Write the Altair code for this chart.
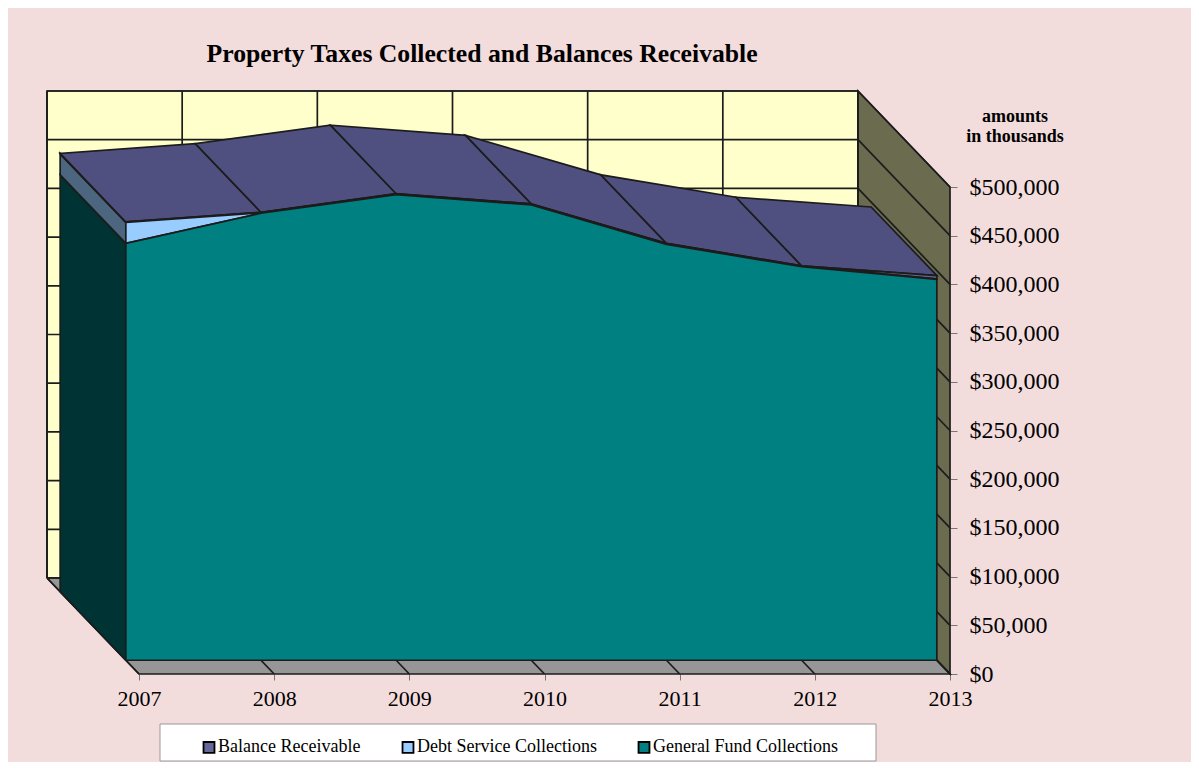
import altair as alt
import pandas as pd

# ---- values ----
years = [2007, 2008, 2009, 2010, 2011, 2012, 2013]
general_fund = [428000, 459000, 478000, 467500, 427000, 404000, 391000]
debt_service = [21500, 500, 500, 500, 500, 500, 500]
balance_receivable = [500, 500, 500, 500, 500, 500, 3500]
series_names = ["Balance Receivable", "Debt Service Collections", "General Fund Collections"]
series_colors = ["#666699", "#99CCFF", "#008080"]
value_ticks = list(range(0, 500001, 50000))
note_lines = ["amounts", "in thousands"]
title_text = "Property Taxes Collected and Balances Receivable"

# ---- oblique projection of the 3-D box onto the year/dollar plane ----
PX_PER_YEAR = 811 / 6
PX_PER_DOLLAR = 487 / 500000
DEPTH_YEARS = 92 / PX_PER_YEAR        # how far the back wall shifts left
DEPTH_DOLLARS = 96 / PX_PER_DOLLAR    # how far the back wall shifts up
SERIES_FRONT, SERIES_BACK = 0.143, 0.857
FONT = "Liberation Serif"
LINE = "#1c1c1c"


def proj(year, value, depth=0.0):
    return year - depth * DEPTH_YEARS, value + depth * DEPTH_DOLLARS


def poly(name, fill, corners):
    pts = corners + [corners[0]]
    rows = []
    for i, (yr, val, dep) in enumerate(pts):
        x, y = proj(yr, val, dep)
        rows.append({"x": x, "y": y, "i": i, "face": name, "fill": fill})
    return rows


def seg(name, a, b):
    rows = []
    for i, (yr, val, dep) in enumerate([a, b]):
        x, y = proj(yr, val, dep)
        rows.append({"x": x, "y": y, "i": i, "face": name})
    return rows


x_scale = alt.Scale(domain=[years[0], years[-1]], nice=False, zero=False)
y_scale = alt.Scale(domain=[0, 500000], nice=False, zero=False)
X = alt.X("x:Q", scale=x_scale, title=None,
          axis=alt.Axis(values=years, format="d", grid=False, domain=False, tickColor="#777777",
                        tickSize=6, labelFont=FONT, labelFontSize=22, labelColor="black",
                        labelPadding=8, labelFlush=False, labelOverlap=False, labelBound=False,
                        orient="bottom"))
Y = alt.Y("y:Q", scale=y_scale, title=None,
          axis=alt.Axis(values=value_ticks, format="$,.0f", grid=False, domain=False, tickColor="#777777",
                        tickSize=7, labelFont=FONT, labelFontSize=24, labelColor="black",
                        labelPadding=12, labelFlush=False, labelOverlap=False, labelBound=False,
                        orient="right"))


def fills(rows):
    return alt.Chart(pd.DataFrame(rows)).mark_line(fill="black", stroke=LINE, strokeWidth=1.7).encode(
        x=X, y=Y, order=alt.Order("i:Q"), detail="face:N",
        fill=alt.Fill("fill:N", scale=None))


y0, y1 = years[0], years[-1]
top = value_ticks[-1]

# box: back wall, side wall, floor
box_rows = (
    poly("wall", "#FFFFCC", [(y0, 0, 1), (y1, 0, 1), (y1, top, 1), (y0, top, 1)])
    + poly("side", "#6B6B50", [(y1, 0, 1), (y1, 0, 0), (y1, top, 0), (y1, top, 1)])
    + poly("floor", "#969696", [(y0, 0, 1), (y1, 0, 1), (y1, 0, 0), (y0, 0, 0)])
)

# grid lines on the box
grid_rows = []
for v in value_ticks:
    grid_rows += seg(f"back{v}", (y0, v, 1), (y1, v, 1))
    grid_rows += seg(f"right{v}", (y1, v, 1), (y1, v, 0))
for yr in years:
    grid_rows += seg(f"vert{yr}", (yr, 0, 1), (yr, top, 1))
    grid_rows += seg(f"fl{yr}", (yr, 0, 1), (yr, 0, 0))

# stacked levels
g_top = general_fund
d_top = [a + b for a, b in zip(g_top, debt_service)]
b_top = [a + b for a, b in zip(d_top, balance_receivable)]

side_rows = (
    poly("s1", "#003333", [(y0, 0, SERIES_FRONT), (y0, 0, SERIES_BACK), (y0, g_top[0], SERIES_BACK), (y0, g_top[0], SERIES_FRONT)])
    + poly("s2", "#4C6680", [(y0, g_top[0], SERIES_FRONT), (y0, g_top[0], SERIES_BACK), (y0, d_top[0], SERIES_BACK), (y0, d_top[0], SERIES_FRONT)])
    + poly("s3", "#333366", [(y0, d_top[0], SERIES_FRONT), (y0, d_top[0], SERIES_BACK), (y0, b_top[0], SERIES_BACK), (y0, b_top[0], SERIES_FRONT)])
)

top_rows = []
for k in range(len(years) - 1):
    top_rows += poly(f"t{k}", "#505080", [
        (years[k], b_top[k], SERIES_FRONT), (years[k + 1], b_top[k + 1], SERIES_FRONT),
        (years[k + 1], b_top[k + 1], SERIES_BACK), (years[k], b_top[k], SERIES_BACK)])

# front faces
front_rows = []
for name, lows, highs in [
    (series_names[0], d_top, b_top),
    (series_names[1], g_top, d_top),
    (series_names[2], [0] * len(years), g_top),
]:
    for yr, lo, hi in zip(years, lows, highs):
        x, yl = proj(yr, lo, SERIES_FRONT)
        _, yh = proj(yr, hi, SERIES_FRONT)
        front_rows.append({"x": x, "y": yh, "y2": yl, "series": name})

box = fills(box_rows)
grid = alt.Chart(pd.DataFrame(grid_rows)).mark_line(stroke=LINE, strokeWidth=1.7).encode(
    x=X, y=Y, order=alt.Order("i:Q"), detail="face:N")
sides = fills(side_rows)
tops = fills(top_rows)
front = alt.Chart(pd.DataFrame(front_rows)).mark_area(stroke=LINE, strokeWidth=1.7, opacity=1).encode(
    x=X, y=Y, y2="y2:Q",
    color=alt.Color("series:N",
                    scale=alt.Scale(domain=series_names, range=series_colors),
                    legend=alt.Legend(title=None, orient="none", legendX=61, legendY=551,
                                      direction="horizontal", columns=3, columnPadding=37,
                                      padding=0, symbolType="square", symbolSize=120,
                                      symbolStrokeColor="black", symbolStrokeWidth=1.8,
                                      labelFont=FONT, labelFontSize=18, labelColor="black",
                                      labelOffset=0, labelLimit=300)))

legend_box = alt.Chart(pd.DataFrame({"k": [0]})).mark_rect(fill="white", stroke="#999999", strokeWidth=1).encode(
    x=alt.value(21), x2=alt.value(737), y=alt.value(537), y2=alt.value(574))

note = alt.Chart(pd.DataFrame({"t": note_lines, "py": [-65, -45]})).mark_text(
    font=FONT, fontSize=18, fontWeight="bold", color="black", align="center", baseline="alphabetic"
).encode(x=alt.value(876), y=alt.Y("py:Q", scale=None, axis=None), text="t:N")

chart = alt.layer(box, grid, sides, tops, front, legend_box, note).properties(
    width=811, height=487,
    background="#F3DCDC",
    padding={"left": 131, "top": 179, "right": 241, "bottom": 88},
    autosize=alt.AutoSizeParams(type="none"),
    title=alt.TitleParams(title_text, anchor="start", dx=163, offset=20, font=FONT, fontSize=25.7,
                          fontWeight="bold", color="black"),
).configure_view(stroke=None)

chart.save("out.html", embed_options={"renderer": "svg", "actions": False})
